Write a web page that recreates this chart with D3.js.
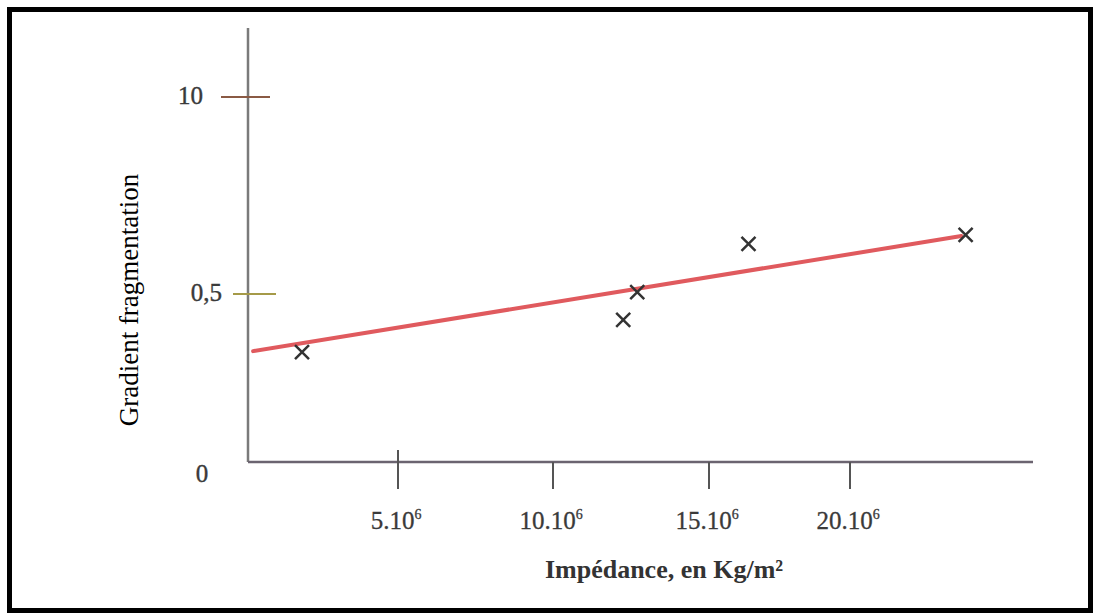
<!DOCTYPE html>
<html>
<head>
<meta charset="utf-8">
<script src="https://cdn.jsdelivr.net/npm/d3@7"></script>
<style>
  html, body { margin: 0; padding: 0; background: #fff; }
  #chart svg { display: block; }
</style>
</head>
<body>
<div id="chart"></div>
<script>
// values (x in units of 10^6 Kg/m2)
const impedance = [1.8, 12.25, 12.7, 16.4, 24.1];
const gradient = [0.327, 0.423, 0.505, 0.627, 0.65];

// fitted line end points
const fitX = [0.17, 23.95];
const fitY = [0.33, 0.647];

const xTicks = [5, 10, 15, 20];
const xTickLabels = ['5.10', '10.10', '15.10', '20.10'];
const yTicks = [0, 0.5, 1];
const yTickLabels = ['0', '0,5', '10'];

const width = 1096;
const height = 616;
const font = '"Liberation Serif", "Times New Roman", serif';

const svg = d3.select('#chart')
    .append('svg')
    .attr('width', width)
    .attr('height', height);

// the printed axes are not evenly spaced, so piecewise scales
const x = d3.scaleLinear()
    .domain([0, 5, 10, 15, 20])
    .range([248, 398, 553, 709, 850]);

const y = d3.scaleLinear()
    .domain([0, 0.5, 1])
    .range([462, 294, 97]);

// frame
svg.append('rect')
    .attr('x', 9.5)
    .attr('y', 9.5)
    .attr('width', width - 15)
    .attr('height', height - 15)
    .attr('fill', 'none')
    .attr('stroke', '#000')
    .attr('stroke-width', 5);

// axes
svg.append('line')
    .attr('x1', x(0)).attr('x2', x(0))
    .attr('y1', 28).attr('y2', y(0))
    .attr('stroke', '#7a7a7a')
    .attr('stroke-width', 2.5);

svg.append('line')
    .attr('x1', x(0)).attr('x2', 1033)
    .attr('y1', y(0)).attr('y2', y(0))
    .attr('stroke', '#6b6470')
    .attr('stroke-width', 2.5);

// x ticks
svg.selectAll('.xtick')
    .data(xTicks)
    .enter()
    .append('line')
    .attr('class', 'xtick')
    .attr('x1', d => x(d)).attr('x2', d => x(d))
    .attr('y1', d => d === 5 ? y(0) - 12 : y(0))
    .attr('y2', y(0) + 27)
    .attr('stroke', '#555')
    .attr('stroke-width', 2);

const xlab = svg.selectAll('.xlab')
    .data(xTicks)
    .enter()
    .append('text')
    .attr('class', 'xlab')
    .attr('x', d => x(d) - 2)
    .attr('y', 529)
    .attr('text-anchor', 'middle')
    .attr('font-family', font)
    .attr('font-size', 25)
    .attr('fill', '#3a3a3a')
    .attr('stroke', '#3a3a3a')
    .attr('stroke-width', 0.3);

xlab.append('tspan').text((d, i) => xTickLabels[i]);
xlab.append('tspan')
    .attr('dy', -10)
    .attr('font-size', 14)
    .text('6');

// y ticks
svg.selectAll('.ytick')
    .data(yTicks.filter(d => d > 0))
    .enter()
    .append('line')
    .attr('class', 'ytick')
    .attr('x1', d => d === 1 ? 221 : 233)
    .attr('x2', d => d === 1 ? 270 : 276)
    .attr('y1', d => y(d)).attr('y2', d => y(d))
    .attr('stroke', d => d === 1 ? '#8a5a44' : '#a59a48')
    .attr('stroke-width', 2);

svg.selectAll('.ylab')
    .data(yTicks)
    .enter()
    .append('text')
    .attr('class', 'ylab')
    .attr('x', 203)
    .attr('y', d => y(d) + (d === 0 ? 11 : -2))
    .attr('dominant-baseline', 'central')
    .attr('text-anchor', d => d === 0 ? 'middle' : 'end')
    .attr('dx', d => d === 0 ? -1 : (d === 0.5 ? 19 : 0))
    .attr('font-family', font)
    .attr('font-size', 25)
    .attr('fill', '#3a3a3a')
    .attr('stroke', '#3a3a3a')
    .attr('stroke-width', 0.4)
    .text((d, i) => yTickLabels[i]);

// axis titles
svg.append('text')
    .attr('x', 664)
    .attr('y', 578)
    .attr('text-anchor', 'middle')
    .attr('font-family', font)
    .attr('font-weight', 'bold')
    .attr('font-size', 26)
    .attr('fill', '#333')
    .text('Impédance, en Kg/m²');

svg.append('text')
    .attr('transform', 'translate(138,300) rotate(-90)')
    .attr('text-anchor', 'middle')
    .attr('font-family', font)
    .attr('font-size', 27)
    .attr('fill', '#000')
    .text('Gradient fragmentation');

// fitted line
svg.append('line')
    .attr('x1', x(fitX[0])).attr('y1', y(fitY[0]))
    .attr('x2', x(fitX[1])).attr('y2', y(fitY[1]))
    .attr('stroke', '#e05a5e')
    .attr('stroke-width', 4)
    .attr('stroke-linecap', 'round');

// measurement crosses
const s = 7;
svg.selectAll('.pt')
    .data(impedance.map((v, i) => ({ x: v, y: gradient[i] })))
    .enter()
    .append('path')
    .attr('class', 'pt')
    .attr('d', d => {
        const cx = x(d.x), cy = y(d.y);
        return 'M' + (cx - s) + ',' + (cy - s) + 'L' + (cx + s) + ',' + (cy + s) +
            'M' + (cx - s) + ',' + (cy + s) + 'L' + (cx + s) + ',' + (cy - s);
    })
    .attr('stroke', '#333')
    .attr('stroke-width', 2.5)
    .attr('fill', 'none');
</script>
</body>
</html>
